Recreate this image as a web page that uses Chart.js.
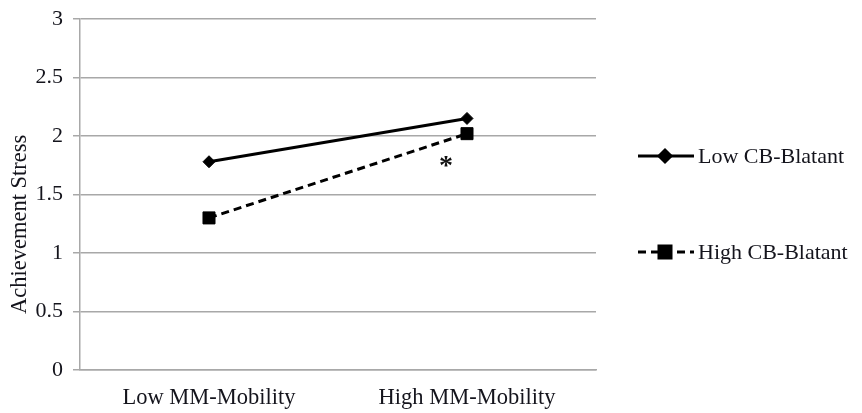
<!DOCTYPE html>
<html>
<head>
<meta charset="utf-8">
<script src="https://cdn.jsdelivr.net/npm/chart.js@4"></script>
<style>
  html, body { margin: 0; padding: 0; background: #fff; }
  #wrap { width: 862px; height: 413px; }
</style>
</head>
<body>
<div id="wrap"><canvas id="c" width="862" height="413"></canvas></div>
<script>
// Categories and series
const categories = ['Low MM-Mobility', 'High MM-Mobility'];
const seriesNames = ['Low CB-Blatant', 'High CB-Blatant'];
const lowBlatant = [1.78, 2.15];
const highBlatant = [1.30, 2.02];
const yTicks = [0, 0.5, 1, 1.5, 2, 2.5, 3];
const axisTitle = 'Achievement Stress';
// significance mark next to the High MM-Mobility point
const sigMark = '*';
const sigCategory = 1;
const sigValue = 1.75;

const SERIF = '"Liberation Serif", "Times New Roman", serif';
const TEXT = '#14141c';
const GRID = '#a8a8a8';

// Right-side legend, rotated y title and the significance mark
const extras = {
  id: 'extras',
  afterDraw(chart) {
    const ctx = chart.ctx;
    const area = chart.chartArea;
    const xs = chart.scales.x, ys = chart.scales.y;
    ctx.save();

    // y axis title
    ctx.font = '22.5px ' + SERIF;
    ctx.fillStyle = TEXT;
    ctx.textAlign = 'center';
    ctx.textBaseline = 'middle';
    ctx.translate(20, area.top + (area.bottom - area.top) * 0.585);
    ctx.rotate(-Math.PI / 2);
    ctx.fillText(axisTitle, 0, 0);
    ctx.restore();

    // significance mark
    ctx.save();
    ctx.font = 'bold 28px ' + SERIF;
    ctx.fillStyle = '#111';
    ctx.textAlign = 'center';
    ctx.textBaseline = 'alphabetic';
    ctx.fillText(sigMark, xs.getPixelForValue(sigCategory) - 21, ys.getPixelForValue(sigValue) + 9);
    ctx.restore();

    // legend
    const rows = [156, 252];
    chart.data.datasets.forEach((ds, i) => {
      const y = rows[i];
      ctx.save();
      ctx.strokeStyle = ds.borderColor;
      ctx.lineWidth = ds.borderWidth;
      ctx.setLineDash(ds.borderDash || []);
      ctx.beginPath();
      ctx.moveTo(638, y);
      ctx.lineTo(694, y);
      ctx.stroke();
      ctx.setLineDash([]);
      Chart.helpers.drawPoint(ctx, {
        pointStyle: ds.pointStyle,
        radius: ds.pointRadius,
        borderWidth: 1
      }, 665, y);
      ctx.fillStyle = '#000';
      ctx.fill();
      ctx.font = '22px ' + SERIF;
      ctx.fillStyle = TEXT;
      ctx.textAlign = 'left';
      ctx.textBaseline = 'middle';
      ctx.fillText(ds.label, 698, y + 1);
      ctx.restore();
    });
  }
};

new Chart(document.getElementById('c'), {
  type: 'line',
  data: {
    labels: categories,
    datasets: [
      {
        label: seriesNames[0],
        data: lowBlatant,
        borderColor: '#000',
        backgroundColor: '#000',
        borderWidth: 3,
        pointStyle: 'rectRot',
        pointRadius: 6,
        pointBorderWidth: 1,
        pointBackgroundColor: '#000',
        pointBorderColor: '#000'
      },
      {
        label: seriesNames[1],
        data: highBlatant,
        borderColor: '#000',
        backgroundColor: '#000',
        borderWidth: 3,
        borderDash: [8, 5],
        pointStyle: 'rect',
        pointRadius: 8.5,
        pointBorderWidth: 1,
        pointBackgroundColor: '#000',
        pointBorderColor: '#000'
      }
    ]
  },
  options: {
    responsive: false,
    animation: false,
    devicePixelRatio: 1,
    layout: { padding: { top: 19, right: 266, left: 0, bottom: 0 } },
    plugins: {
      legend: { display: false },
      tooltip: { enabled: false }
    },
    scales: {
      x: {
        offset: true,
        grid: { display: false, drawTicks: false },
        border: { color: GRID, width: 1.5 },
        ticks: {
          font: { family: SERIF, size: 22.5 },
          color: TEXT,
          padding: 15,
          maxRotation: 0
        },
        afterFit(scale) { scale.height = 43; }
      },
      y: {
        min: 0,
        max: 3,
        afterBuildTicks(scale) { scale.ticks = yTicks.map(v => ({ value: v })); },
        grid: { color: GRID, lineWidth: 1.5, tickLength: 7, tickColor: GRID },
        border: { color: GRID, width: 1.5 },
        ticks: {
          font: { family: SERIF, size: 22 },
          color: TEXT,
          padding: 10,
          callback: v => String(v)
        },
        afterFit(scale) {
          scale.width = 80;
          scale.paddingTop = 0;
          scale.paddingBottom = 0;
        }
      }
    }
  },
  plugins: [extras]
});
</script>
</body>
</html>
